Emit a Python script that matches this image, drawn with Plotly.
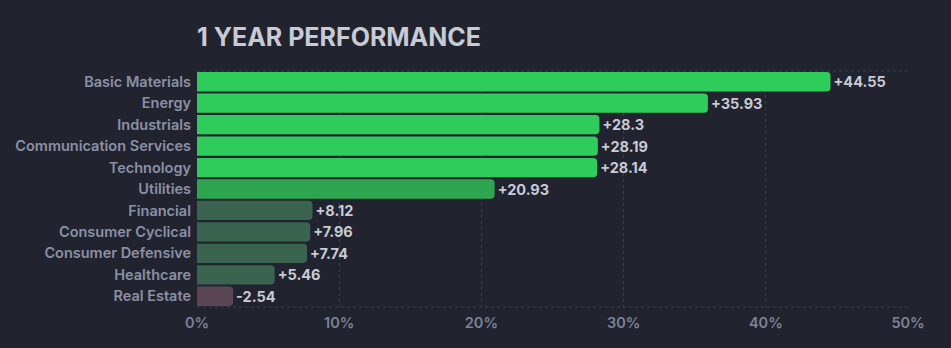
import plotly.graph_objects as go

# Sector returns over one year (%)
sectors = ["Basic Materials", "Energy", "Industrials", "Communication Services",
           "Technology", "Utilities", "Financial", "Consumer Cyclical",
           "Consumer Defensive", "Healthcare", "Real Estate"]
returns = [44.55, 35.93, 28.3, 28.19, 28.14, 20.93, 8.12, 7.96, 7.74, 5.46, -2.54]
bar_colors = ["#2ecc5b", "#2ecc5b", "#2ecc5b", "#2ecc5b", "#2ecc5b", "#2ea64f",
              "#3a6450", "#3a6450", "#3a6450", "#3a6450", "#5b4656"]
tick_vals = [0, 10, 20, 30, 40, 50]
tick_text = ["0%", "10%", "20%", "30%", "40%", "50%"]

BG = "#21242e"
GRID = "#3b3f4c"
FONT = "Inter"

labels = [f"+{v:g}" if v >= 0 else f"{v:g}" for v in returns]

fig = go.Figure(go.Bar(
    x=[abs(v) for v in returns],
    y=sectors,
    orientation="h",
    marker=dict(color=bar_colors, line=dict(width=0)),
    width=0.9,
    text=labels,
    textposition="outside",
    textfont=dict(family=FONT, size=14.5, color="#c8cad6", weight=700),
    cliponaxis=False,
    hoverinfo="skip",
))

fig.update_layout(
    width=951, height=348,
    margin=dict(l=197, r=43, t=71, b=41),
    paper_bgcolor=BG, plot_bgcolor=BG,
    barcornerradius=4,
    showlegend=False,
    title=dict(
        text="<b>1 YEAR PERFORMANCE</b>",
        x=197 / 951, xanchor="left",
        y=1 - 37 / 348, yanchor="middle",
        font=dict(family=FONT, size=25, color="#c8cad6"),
    ),
    xaxis=dict(
        range=[0, 50],
        tickvals=tick_vals, ticktext=tick_text,
        showgrid=True, gridcolor=GRID, griddash="3px,3px", gridwidth=1,
        zeroline=False, showline=False,
        tickfont=dict(family=FONT, size=14.5, color="#7d8298", weight=600),
        ticks="", ticklabelstandoff=5,
        fixedrange=True,
    ),
    yaxis=dict(
        categoryorder="array", categoryarray=sectors[::-1],
        showgrid=False, zeroline=False, showline=False,
        tickfont=dict(family=FONT, size=14.5, color="#8b90a6", weight=600),
        ticks="", ticklabelstandoff=5,
        fixedrange=True,
    ),
    shapes=[
        dict(type="line", xref="x domain", yref="y domain", x0=0, x1=1, y0=1, y1=1,
             line=dict(color=GRID, width=1, dash="3px,3px"), layer="below"),
        dict(type="line", xref="x domain", yref="y domain", x0=0, x1=1, y0=0, y1=0,
             line=dict(color=GRID, width=1, dash="3px,3px"), layer="below"),
    ],
)

fig.write_html("out.html")
